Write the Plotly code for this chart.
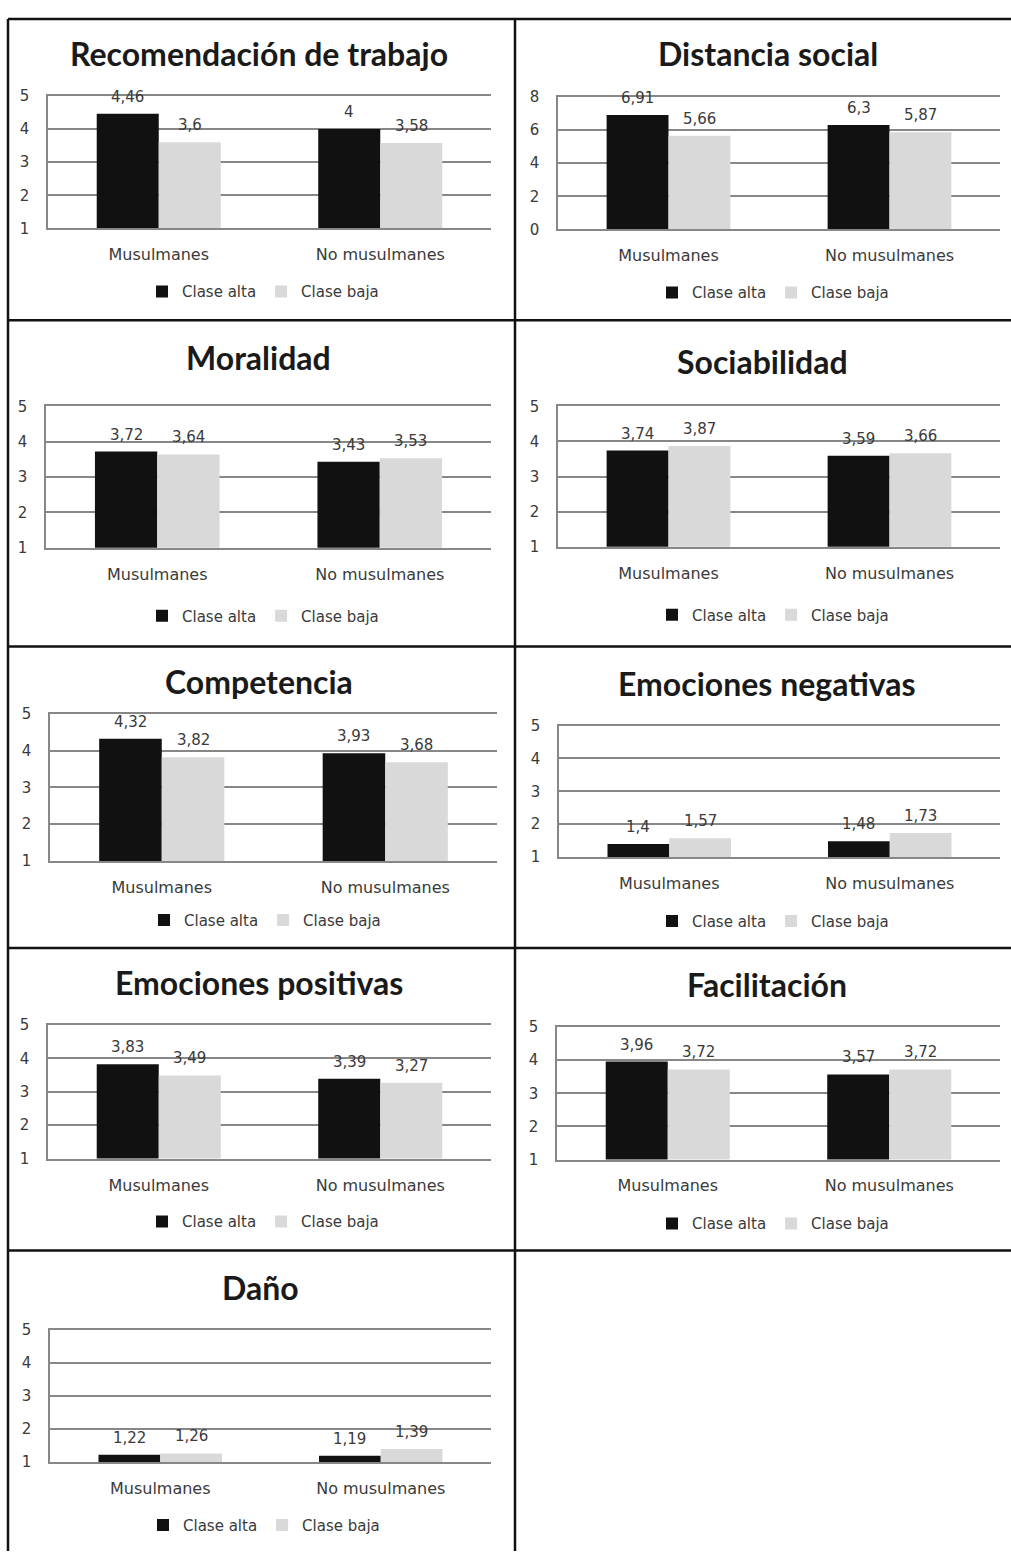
import plotly.graph_objects as go

# ---------------- data ----------------
categories = ["Musulmanes", "No musulmanes"]
series_names = ["Clase alta", "Clase baja"]

titles = ["Recomendación de trabajo", "Distancia social", "Moralidad", "Sociabilidad",
          "Competencia", "Emociones negativas", "Emociones positivas", "Facilitación", "Daño"]

recomendacion_alta = [4.46, 4.0]
recomendacion_baja = [3.6, 3.58]
distancia_alta = [6.91, 6.3]
distancia_baja = [5.66, 5.87]
moralidad_alta = [3.72, 3.43]
moralidad_baja = [3.64, 3.53]
sociabilidad_alta = [3.74, 3.59]
sociabilidad_baja = [3.87, 3.66]
competencia_alta = [4.32, 3.93]
competencia_baja = [3.82, 3.68]
emo_neg_alta = [1.4, 1.48]
emo_neg_baja = [1.57, 1.73]
emo_pos_alta = [3.83, 3.39]
emo_pos_baja = [3.49, 3.27]
facilitacion_alta = [3.96, 3.57]
facilitacion_baja = [3.72, 3.72]
dano_alta = [1.22, 1.19]
dano_baja = [1.26, 1.39]

y_ranges = [[1, 5], [0, 8], [1, 5], [1, 5], [1, 5], [1, 5], [1, 5], [1, 5], [1, 5]]
y_dticks = [1, 2, 1, 1, 1, 1, 1, 1, 1]

alta_series = [recomendacion_alta, distancia_alta, moralidad_alta, sociabilidad_alta,
               competencia_alta, emo_neg_alta, emo_pos_alta, facilitacion_alta, dano_alta]
baja_series = [recomendacion_baja, distancia_baja, moralidad_baja, sociabilidad_baja,
               competencia_baja, emo_neg_baja, emo_pos_baja, facilitacion_baja, dano_baja]

# ---------------- layout (pixels) ----------------
W, H = 1011, 1557
# plot x0, x1, y_top, y_bottom, title_x, title_y, legend_x, legend_y
geom = [
    (48, 491, 88, 222, 259, 45, 263, 286),
    (558, 1000, 89, 223, 768, 45, 773, 287),
    (46, 491, 402, 545, 258, 353, 263, 614),
    (558, 1000, 402, 544, 762, 357, 773, 613),
    (50, 497, 713, 862, 259, 680, 265, 922),
    (559, 1000, 725, 858, 767, 682, 773, 923),
    (48, 491, 1028, 1163, 259, 985, 263, 1227),
    (557, 1000, 1030, 1164, 767, 987, 773, 1229),
    (50, 491, 1336, 1470, 260, 1293, 264, 1534),
]

BARGAP = 0.44
colors = ["#111111", "#d9d9d9"]
txt_color = "#3a3a3a"
grid_color = "#878787"
body_font = "DejaVu Sans"
title_font = "Lato"


def fmt(v):
    return f"{v:g}".replace(".", ",")


def px_x(v):
    return v / W


def px_y(v):
    return 1 - v / H


fig = go.Figure()
layout = dict(
    width=W, height=H,
    margin=dict(l=0, r=0, t=0, b=0),
    paper_bgcolor="white", plot_bgcolor="white",
    barmode="group", bargap=BARGAP, bargroupgap=0,
    annotations=[], shapes=[],
    font=dict(family=body_font, color=txt_color),
    showlegend=True,
)

bar_w = (1 - BARGAP) / 2
for i in range(9):
    x0, x1, yt, yb, tx, ty, lx, ly = geom[i]
    sfx = "" if i == 0 else str(i + 1)
    xa, ya = "x" + sfx, "y" + sfx
    leg = "legend" + sfx
    for s, vals in enumerate([alta_series[i], baja_series[i]]):
        fig.add_trace(go.Bar(
            x=categories, y=vals, name=series_names[s],
            marker=dict(color=colors[s], line=dict(width=0)),
            xaxis=xa, yaxis=ya, legend=leg, hoverinfo="x+y",
        ))
        # data labels above each bar
        offset = (s - 0.5) * bar_w
        for c, v in enumerate(vals):
            layout["annotations"].append(dict(
                text=fmt(v), x=c + offset, y=v, xref=xa, yref=ya,
                xanchor="center", yanchor="bottom", yshift=6, showarrow=False,
                font=dict(family=body_font, size=15, color=txt_color),
            ))
    layout["xaxis" + sfx] = dict(
        domain=[px_x(x0), px_x(x1)], anchor=ya, type="category",
        range=[-0.5, 1.5],
        showgrid=False, showline=True, mirror=True,
        linecolor=grid_color, linewidth=1.5,
        ticks="", tickfont=dict(family=body_font, size=16, color=txt_color),
        ticklabelstandoff=11, fixedrange=True,
    )
    layout["yaxis" + sfx] = dict(
        domain=[px_y(yb), px_y(yt)], anchor=xa,
        range=y_ranges[i], dtick=y_dticks[i], tick0=y_ranges[i][0],
        showgrid=True, gridcolor=grid_color, gridwidth=1.5,
        showline=True, linecolor=grid_color, linewidth=1.5,
        zeroline=False, ticks="",
        tickfont=dict(family=body_font, size=15, color=txt_color),
        ticklabelstandoff=14, fixedrange=True,
    )
    layout[leg] = dict(
        orientation="h", x=px_x(lx), y=px_y(ly), xanchor="center", yanchor="middle",
        font=dict(family=body_font, size=15, color=txt_color),
        bgcolor="rgba(0,0,0,0)", itemwidth=30, traceorder="normal",
    )
    layout["annotations"].append(dict(
        text="<b>" + titles[i] + "</b>", x=px_x(tx), y=px_y(ty),
        xref="paper", yref="paper", xanchor="center", yanchor="middle",
        showarrow=False, font=dict(family=title_font, size=32, color="#1a1a1a"),
    ))

# table borders
lw = 2.5
border_lines = [
    (8, 10, 1011, 10),
    (8, 315, 1011, 315),
    (8, 645, 1011, 645),
    (8, 950, 1011, 950),
    (8, 1256, 1011, 1256),
    (8, 10, 8, 1560),
    (515, 10, 515, 1560),
]
for (ax0, ay0, ax1, ay1) in border_lines:
    layout["shapes"].append(dict(
        type="line", xref="paper", yref="paper",
        x0=px_x(ax0), y0=px_y(ay0), x1=px_x(ax1), y1=px_y(ay1),
        line=dict(color="#111111", width=lw),
    ))

fig.update_layout(**layout)
fig.write_html(
    "out.html",
    post_script="document.body.style.margin='0';document.body.style.overflow='hidden';",
)
